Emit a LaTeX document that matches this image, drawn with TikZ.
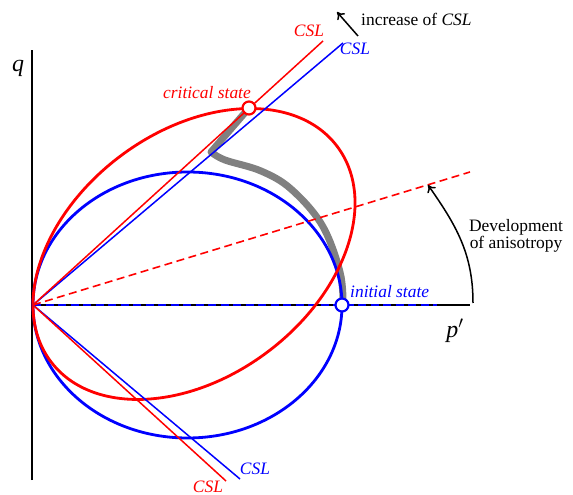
\documentclass[tikz,border=0pt]{standalone}
\usepackage{fontspec}
\setmainfont{Liberation Serif}
\usetikzlibrary{arrows.meta,positioning}
\definecolor{rojo}{RGB}{255,0,0}
\definecolor{azul}{RGB}{0,0,255}
\definecolor{gris}{RGB}{128,128,128}

\begin{document}
\begin{tikzpicture}[x=1bp, y=1bp, font=\fontsize{17.5}{19}\selectfont]

    % Estilos
    \tikzstyle{eje}=[black, line width=1.2bp]
    \tikzstyle{lineacsl}=[line width=1.5bp]
    \tikzstyle{elipse}=[line width=2.8bp]
    \tikzstyle{rayas}=[line width=1.6bp, dash pattern=on 8bp off 4.5bp]
    \tikzstyle{estado}=[circle, draw, fill=white, line width=2.2bp, minimum size=13bp, inner sep=0pt]
    \tikzstyle{etiqueta}=[font=\fontsize{17.5}{19}\selectfont\itshape, inner sep=1pt]
    \tikzstyle{flecha}=[line width=1.5bp, -{To[length=7bp, width=10bp]}]

    \useasboundingbox (-33,-190) rectangle (540,305);

    % Ejes
    \coordinate (O) at (0,0);
    \coordinate (qarriba) at (-1,255);
    \coordinate (qabajo) at (-1,-175);
    \coordinate (pfin) at (437,0);
    \coordinate (pazul) at (404,0);
    \draw[eje] (qabajo) -- (qarriba);
    \draw[eje] (O) -- (pfin);
    \draw[rayas, azul] (O) -- (pazul);
    \node (q) at (-15,237) {\fontsize{24}{26}\selectfont\itshape q};
    \node (p) at (422,-26) {\fontsize{24}{26}\selectfont\itshape p$'$};

    % Trayectoria de tensiones
    \coordinate (quiebre) at (178,153);
    \draw[gris, line width=7bp, line cap=round, line join=round]
        plot[smooth, tension=0.6] coordinates {(310,0) (307,33) (289,80) (258,116) (228,134) (192,145) (178,153)}
        -- (216,197);

    % Superficies de fluencia
    \draw[elipse, azul] (154.5,0) ellipse[x radius=154.5, y radius=133];
    \draw[elipse, rojo, rotate around={36.9:(161,51)}] (161,51) ellipse[x radius=179.1, y radius=122.5];

    % Lineas de estado critico
    \coordinate (csla1) at (310,262);
    \coordinate (csla2) at (207,-174);
    \coordinate (cslr1) at (290,264);
    \coordinate (cslr2) at (193,-176);
    \coordinate (anis) at (437,133);
    \draw[lineacsl, azul] (csla2) -- (O) -- (csla1);
    \draw[lineacsl, rojo] (cslr2) -- (O) -- (cslr1);
    \draw[rayas, rojo] (O) -- (anis);

    % Estados
    \node[estado, draw=azul] (init) at (309,0) {};
    \node[estado, draw=rojo] (crit) at (216,197) {};
    \node[etiqueta, azul, anchor=west] at (316,13) {initial state};
    \node[etiqueta, rojo] at (174,212) {critical state};

    % Etiquetas CSL
    \node[etiqueta, rojo] at (276,274) {CSL};
    \node[etiqueta, azul] at (322,256) {CSL};
    \node[etiqueta, azul] at (222,-164) {CSL};
    \node[etiqueta, rojo] at (175,-182) {CSL};

    % Flechas
    \coordinate (inc1) at (325,269);
    \coordinate (inc2) at (304,293);
    \draw[flecha] (inc1) -- (inc2);
    \node[anchor=west, inner sep=1pt] (inc) at (327,286) {increase of \textit{CSL}};
    \coordinate (arc1) at (440,2);
    \coordinate (arc2) at (395,120);
    \draw[flecha] (arc1) to[out=90, in=-55] (arc2);
    \node[align=center, inner sep=1pt] (desa) at (483,69) {Development\\[-2bp]of anisotropy};
\end{tikzpicture}
\end{document}
